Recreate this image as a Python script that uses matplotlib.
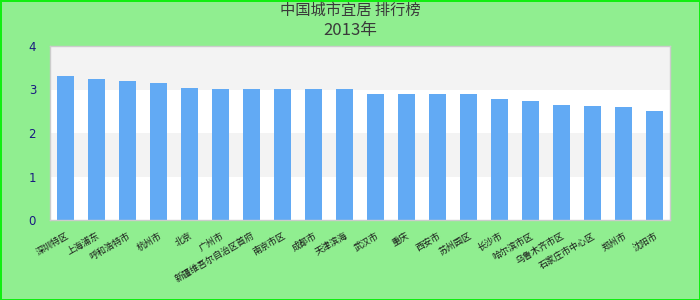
import matplotlib
matplotlib.use("Agg")
import matplotlib.pyplot as plt

plt.rcParams['font.family'] = ['Noto Sans CJK SC', 'DejaVu Sans']

title_main = "中国城市宜居 排行榜"
title_sub = "2013年"
categories = ["深圳特区", "上海浦东", "呼和浩特市", "杭州市", "北京", "广州市",
              "新疆维吾尔自治区首府", "南京市区", "成都市", "天津滨海", "武汉市", "重庆",
              "西安市", "苏州园区", "长沙市", "哈尔滨市区", "乌鲁木齐市区",
              "石家庄市中心区", "郑州市", "沈阳市"]
values = [3.31, 3.24, 3.20, 3.15, 3.03, 3.01, 3.01, 3.01, 3.01, 3.01,
          2.90, 2.90, 2.90, 2.90, 2.78, 2.74, 2.64, 2.62, 2.60, 2.51]
yticks = [0, 1, 2, 3, 4]

fig = plt.figure(figsize=(7, 3), dpi=100)
fig.patch.set_facecolor('#90EE90')
fig.patch.set_edgecolor('#11ee11')
fig.patch.set_linewidth(2)

ax = fig.add_axes([50/700, 80/300, 620/700, 174/300])
ax.set_facecolor('white')
for lo in range(0, 4):
    if lo % 2 == 1:
        ax.axhspan(lo, lo + 1, color='#f3f3f3', zorder=0, lw=0)

x = range(len(categories))
ax.bar(x, values, width=0.55, color='#62aaf4', zorder=2)
ax.set_xlim(-0.5, len(categories) - 0.5)
ax.set_ylim(0, 4)
ax.set_yticks(yticks)
ax.set_yticklabels([str(v) for v in yticks], color='#1a1a80', fontsize=8.5,
                   family=['DejaVu Sans'])
ax.tick_params(axis='y', length=0, pad=10)
ax.set_xticks(list(x))
ax.set_xticklabels(categories, rotation=30, ha='right', rotation_mode='anchor',
                   fontsize=6.5, color='#1a1a1a')
ax.tick_params(axis='x', length=0, pad=8)
for s in ax.spines.values():
    s.set_color('#cccccc')
    s.set_linewidth(1)

fig.text(0.5, 0.965, title_main, ha='center', va='center', fontsize=11, color='#3a3a3a')
fig.text(0.5, 0.897, title_sub, ha='center', va='center', fontsize=12, color='#3a3a3a')

fig.savefig('out.png', dpi=100, facecolor=fig.get_facecolor(), edgecolor=fig.get_edgecolor())
